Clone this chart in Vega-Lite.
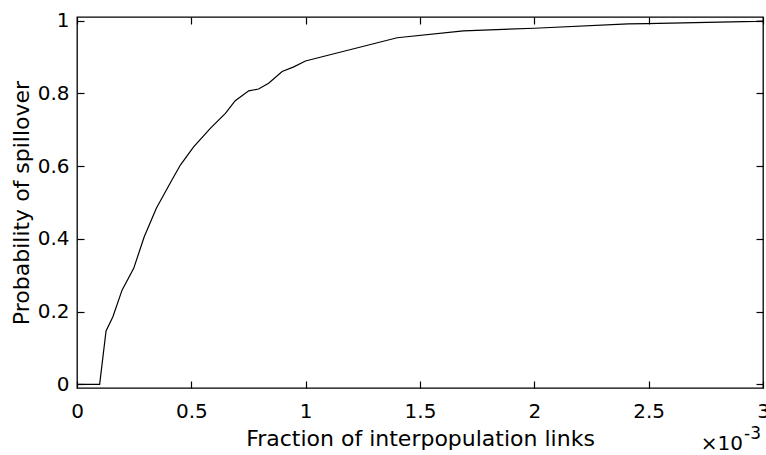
{
  "$schema": "https://vega.github.io/schema/vega-lite/v6.json",
  "width": 686,
  "height": 371,
  "autosize": "none",
  "padding": {"left": 77, "top": 17, "right": 3, "bottom": 67},
  "background": "white",
  "config": {
    "font": "DejaVu Sans",
    "view": {"stroke": "black", "strokeWidth": 1.3},
    "axis": {
      "grid": false,
      "domain": false,
      "tickColor": "black",
      "tickWidth": 1.2,
      "tickSize": -7,
      "labelColor": "black",
      "labelFont": "DejaVu Sans",
      "labelFontSize": 20,
      "titleFont": "DejaVu Sans",
      "titleFontSize": 22,
      "titleFontWeight": "normal",
      "titleColor": "black"
    }
  },
  "data": {
    "values": [
      {"x": 0, "y": 0},
      {"x": 0.099, "y": 0},
      {"x": 0.127, "y": 0.147},
      {"x": 0.157, "y": 0.186},
      {"x": 0.197, "y": 0.259},
      {"x": 0.248, "y": 0.319},
      {"x": 0.294, "y": 0.406},
      {"x": 0.347, "y": 0.484},
      {"x": 0.415, "y": 0.562},
      {"x": 0.452, "y": 0.603},
      {"x": 0.51, "y": 0.653},
      {"x": 0.583, "y": 0.704},
      {"x": 0.649, "y": 0.745},
      {"x": 0.692, "y": 0.78},
      {"x": 0.751, "y": 0.807},
      {"x": 0.794, "y": 0.812},
      {"x": 0.838, "y": 0.828},
      {"x": 0.897, "y": 0.86},
      {"x": 0.948, "y": 0.873},
      {"x": 0.999, "y": 0.889},
      {"x": 1.4, "y": 0.953},
      {"x": 1.69, "y": 0.972},
      {"x": 2.0, "y": 0.979},
      {"x": 2.41, "y": 0.991},
      {"x": 2.49, "y": 0.992},
      {"x": 2.97, "y": 0.998},
      {"x": 3.0, "y": 0.999}
    ]
  },
  "resolve": {"axis": {"x": "independent", "y": "independent"}},
  "layer": [
    {
      "mark": {"type": "line", "color": "black", "strokeWidth": 1.2},
      "encoding": {
        "x": {
          "field": "x", "type": "quantitative",
          "scale": {"domain": [0, 3], "nice": false, "zero": false},
          "axis": {
            "orient": "bottom",
            "values": [0, 0.5, 1, 1.5, 2, 2.5, 3],
            "format": "~g",
            "labelPadding": 20,
            "labelFlush": false,
            "title": "Fraction of interpopulation links",
            "titleBaseline": "alphabetic",
            "titleY": 57
          }
        },
        "y": {
          "field": "y", "type": "quantitative",
          "scale": {"domain": [-0.01, 1.01], "nice": false, "zero": false},
          "axis": {
            "orient": "left",
            "values": [0, 0.2, 0.4, 0.6, 0.8, 1],
            "format": "~g",
            "labelPadding": 15,
            "labelFlush": false,
            "title": "Probability of spillover",
            "titleAngle": -90,
            "titleBaseline": "alphabetic",
            "titleAlign": "center",
            "titleX": -49,
            "titleY": 185.5
          }
        }
      }
    },
    {
      "mark": {"type": "line", "opacity": 0},
      "encoding": {
        "x": {
          "field": "x", "type": "quantitative",
          "axis": {"orient": "top", "values": [0, 0.5, 1, 1.5, 2, 2.5, 3], "labels": false, "title": null}
        },
        "y": {
          "field": "y", "type": "quantitative",
          "axis": {"orient": "right", "values": [0, 0.2, 0.4, 0.6, 0.8, 1], "labels": false, "title": null}
        }
      }
    },
    {
      "data": {"values": [{"t": "×10"}]},
      "mark": {"type": "text", "align": "right", "baseline": "alphabetic", "fontSize": 20, "color": "black", "dx": -20, "dy": 62},
      "encoding": {
        "x": {"datum": 3, "type": "quantitative", "axis": null},
        "y": {"datum": -0.01, "type": "quantitative", "axis": null},
        "text": {"field": "t"}
      }
    },
    {
      "data": {"values": [{"t": "-3"}]},
      "mark": {"type": "text", "align": "right", "baseline": "alphabetic", "fontSize": 17, "color": "black", "dx": -2, "dy": 51},
      "encoding": {
        "x": {"datum": 3, "type": "quantitative", "axis": null},
        "y": {"datum": -0.01, "type": "quantitative", "axis": null},
        "text": {"field": "t"}
      }
    }
  ]
}
